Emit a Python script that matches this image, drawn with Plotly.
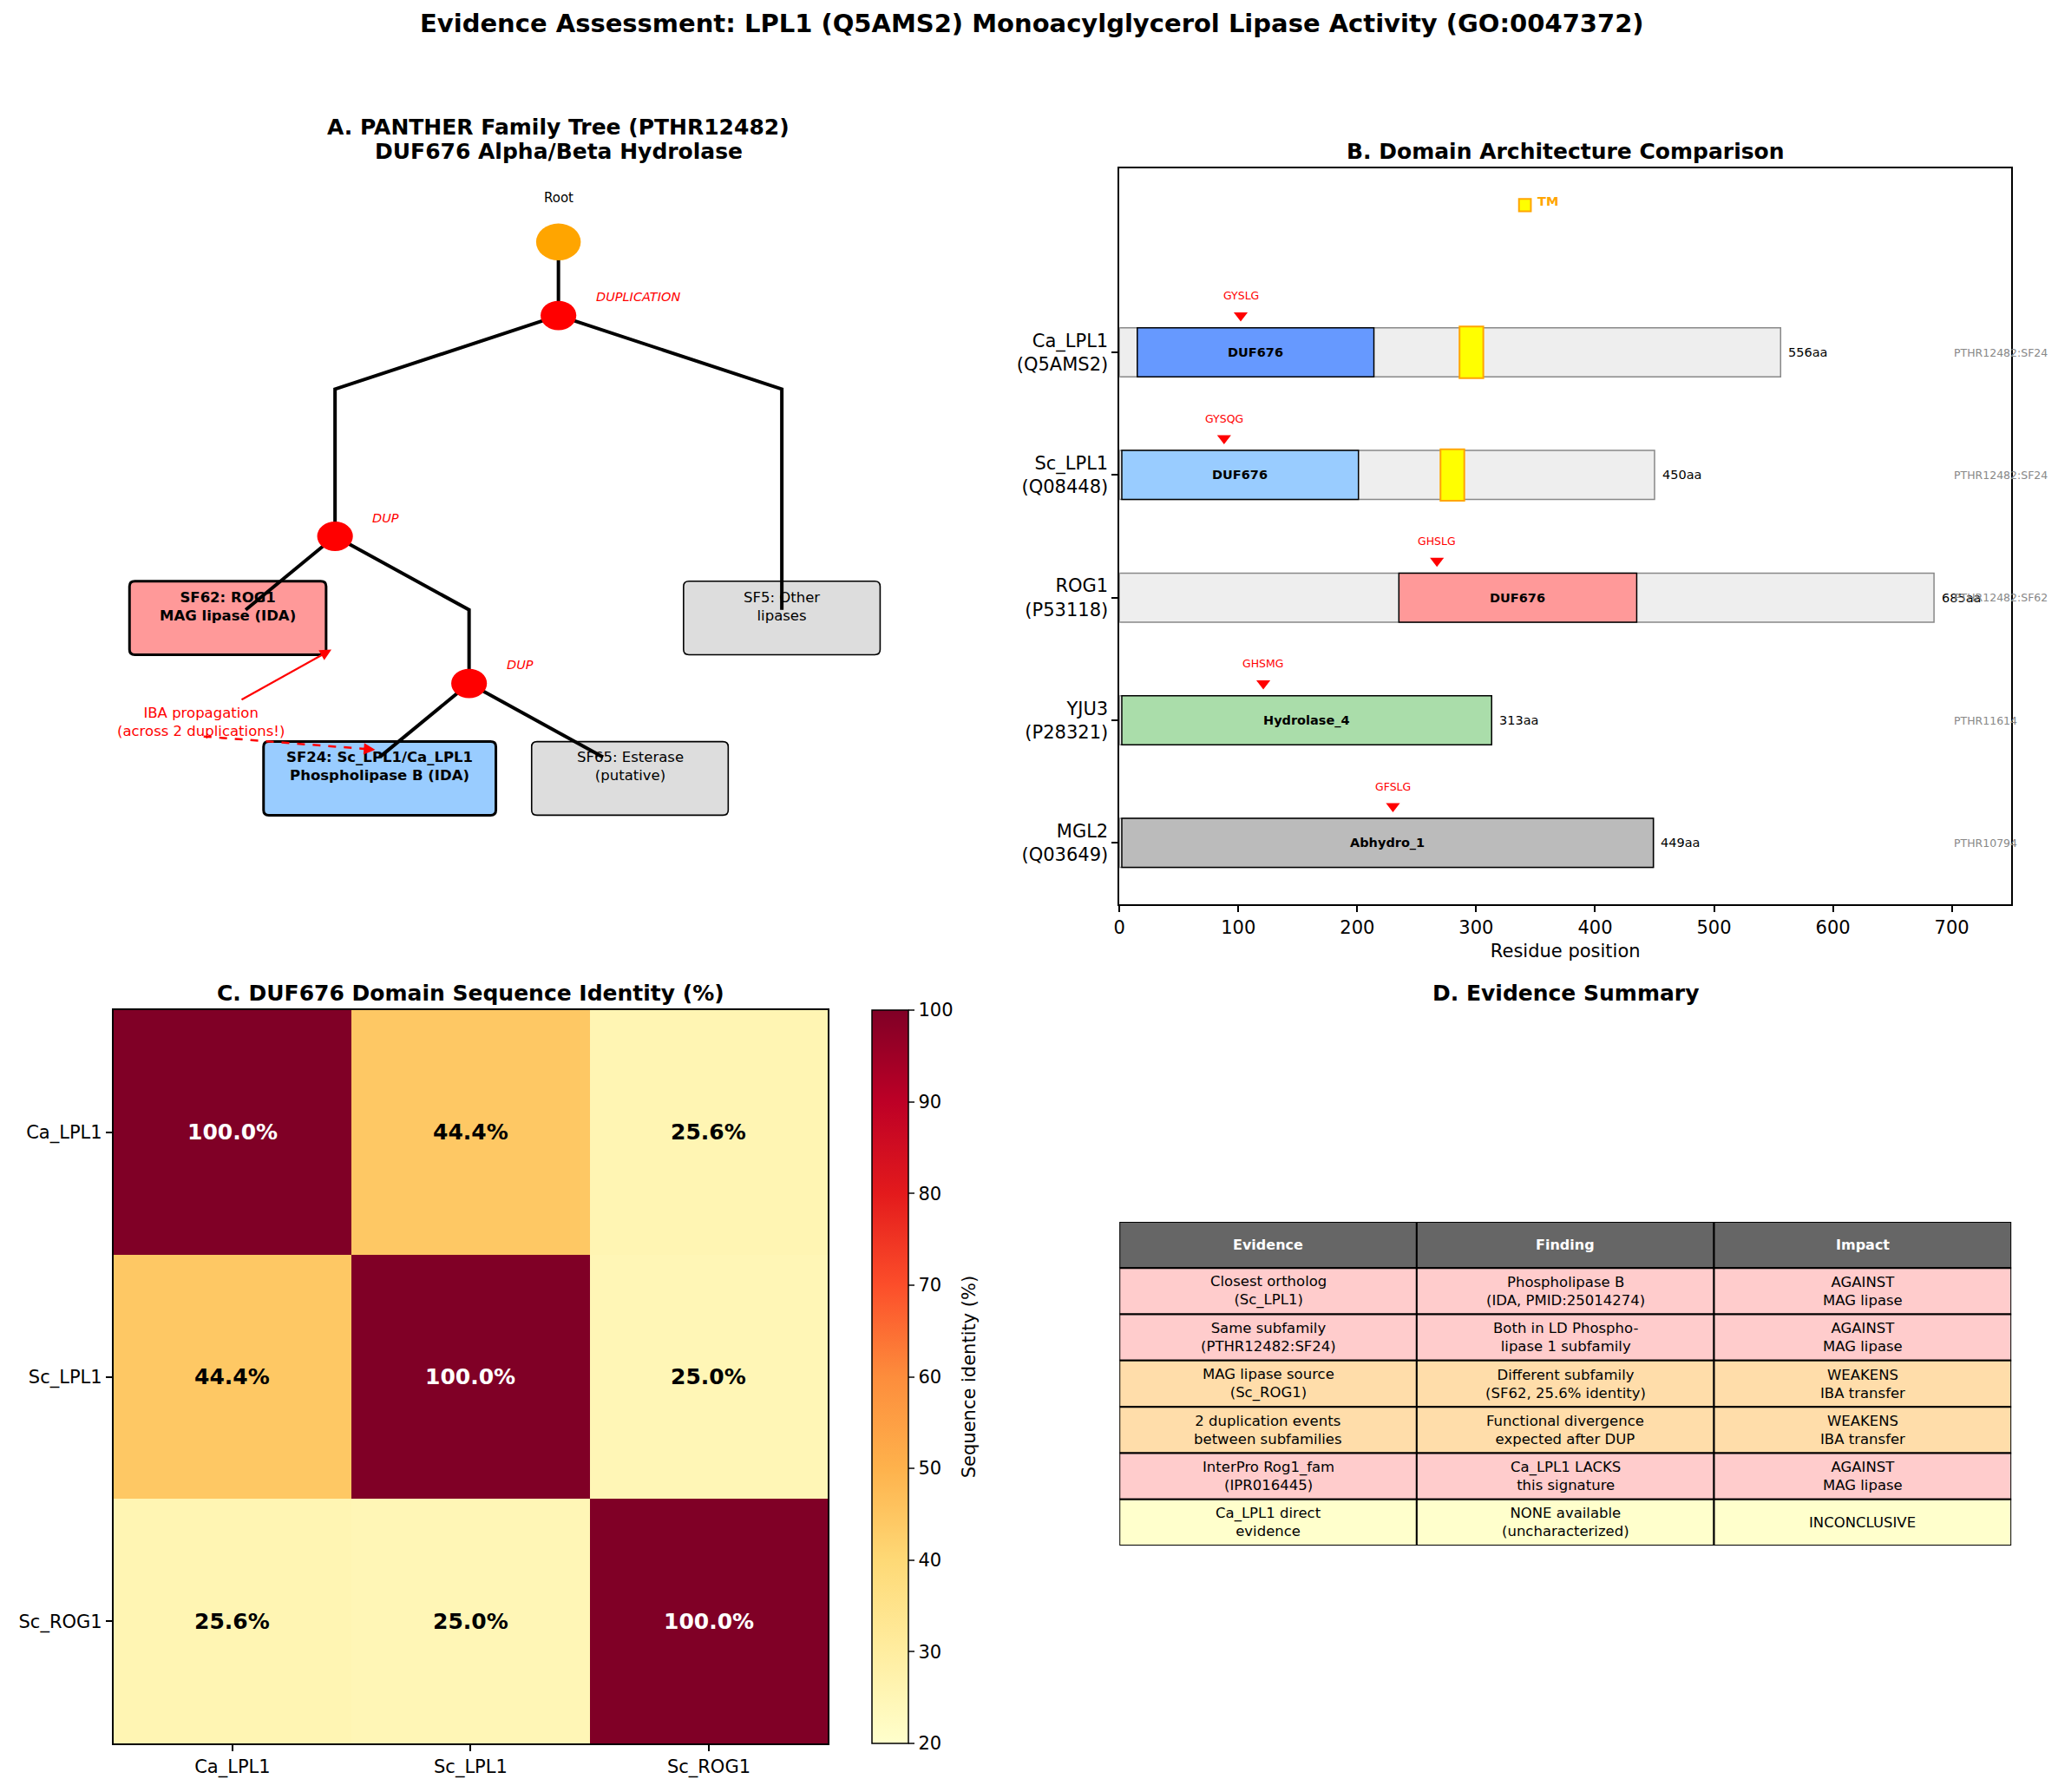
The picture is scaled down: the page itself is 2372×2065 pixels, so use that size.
import plotly.graph_objects as go

W, H = 2372, 2065
FONT = "DejaVu Sans"
OFF = 8  # page body margin of the html page, in px

# ---------------- Panel A: PANTHER tree ----------------
node_x = [5.0, 5.0, 2.5, 4.0]
node_y = [9.0, 8.0, 5.0, 3.0]
node_kind = ["root", "dup", "dup", "dup"]
node_label = ["Root", "DUPLICATION", "DUP", "DUP"]
branch_x = [[5, 5], [5, 2.5, 2.5], [5, 7.5, 7.5], [2.5, 1.5], [2.5, 4, 4], [4, 3], [4, 5.5]]
branch_y = [[9, 8], [8, 7, 5], [8, 7, 4], [5, 4], [5, 4, 3], [3, 2], [3, 2]]
leaf_text = ["<b>SF62: ROG1<br>MAG lipase (IDA)</b>", "SF5: Other<br>lipases",
             "<b>SF24: Sc_LPL1/Ca_LPL1<br>Phospholipase B (IDA)</b>", "SF65: Esterase<br>(putative)"]
leaf_x = [1.3, 7.5, 3.0, 5.8]
leaf_y = [4.05, 4.05, 1.87, 1.87]
leaf_halfw = [1.1, 1.1, 1.3, 1.1]
leaf_color = ["#FF9999", "#DDDDDD", "#99CCFF", "#DDDDDD"]
leaf_bold = [True, False, True, False]

# ---------------- Panel B: domains ----------------
prot_names = ["Ca_LPL1", "Sc_LPL1", "ROG1", "YJU3", "MGL2"]
prot_ids = ["Q5AMS2", "Q08448", "P53118", "P28321", "Q03649"]
prot_len = [556, 450, 685, 313, 449]
dom_name = ["DUF676", "DUF676", "DUF676", "Hydrolase_4", "Abhydro_1"]
dom_start = [15, 2, 235, 2, 2]
dom_end = [214, 201, 435, 313, 449]
dom_color = ["#6699FF", "#99CCFF", "#FF9999", "#AADDAA", "#BBBBBB"]
tm_prot = ["Ca_LPL1", "Sc_LPL1"]
tm_start = [286, 270]
tm_end = [306, 290]
motif_seq = ["GYSLG", "GYSQG", "GHSLG", "GHSMG", "GFSLG"]
motif_pos = [102, 88, 267, 121, 230]
panther_id = ["PTHR12482:SF24", "PTHR12482:SF24", "PTHR12482:SF62", "PTHR11614", "PTHR10794"]

# ---------------- Panel C: identity matrix ----------------
id_labels = ["Ca_LPL1", "Sc_LPL1", "Sc_ROG1"]
id_matrix = [[100.0, 44.4, 25.6],
             [44.4, 100.0, 25.0],
             [25.6, 25.0, 100.0]]

# ---------------- Panel D: evidence table ----------------
tbl_header = ["Evidence", "Finding", "Impact"]
tbl_evidence = ["Closest ortholog<br>(Sc_LPL1)", "Same subfamily<br>(PTHR12482:SF24)",
                "MAG lipase source<br>(Sc_ROG1)", "2 duplication events<br>between subfamilies",
                "InterPro Rog1_fam<br>(IPR016445)", "Ca_LPL1 direct<br>evidence"]
tbl_finding = ["Phospholipase B<br>(IDA, PMID:25014274)", "Both in LD Phospho-<br>lipase 1 subfamily",
               "Different subfamily<br>(SF62, 25.6% identity)", "Functional divergence<br>expected after DUP",
               "Ca_LPL1 LACKS<br>this signature", "NONE available<br>(uncharacterized)"]
tbl_impact = ["AGAINST<br>MAG lipase", "AGAINST<br>MAG lipase", "WEAKENS<br>IBA transfer",
              "WEAKENS<br>IBA transfer", "AGAINST<br>MAG lipase", "INCONCLUSIVE"]
tbl_row_color = ["#FFCCCC", "#FFCCCC", "#FFDDAA", "#FFDDAA", "#FFCCCC", "#FFFFCC"]

# ---------------- layout helpers ----------------
def fx(px):
    return (px - OFF) / W

def fy(py):
    return 1 - (py - OFF) / H

A_dom_x = [fx(122), fx(1155)]
B_dom_x = [fx(1287), fx(2318)]
TOP_dom_y = [fy(1042), fy(194)]
C_dom_x = [fx(124), fx(950)]
C_dom_y = [fy(2009), fy(1164)]
D_dom_y = [fy(1781), fy(1408)]

fig = go.Figure()
shapes = []
annots = []

# ---- Panel A ----
for bx, by in zip(branch_x, branch_y):
    fig.add_trace(go.Scatter(x=bx, y=by, mode="lines", line=dict(color="black", width=4),
                             xaxis="x", yaxis="y", showlegend=False, hoverinfo="skip"))

def rpath(x0, y0, x1, y1, rx=0.06, ry=0.07):
    return (f"M {x0+rx},{y0} L {x1-rx},{y0} Q {x1},{y0} {x1},{y0+ry} L {x1},{y1-ry} "
            f"Q {x1},{y1} {x1-rx},{y1} L {x0+rx},{y1} Q {x0},{y1} {x0},{y1-ry} "
            f"L {x0},{y0+ry} Q {x0},{y0} {x0+rx},{y0} Z")

for t, lx, ly, hw, col, b in zip(leaf_text, leaf_x, leaf_y, leaf_halfw, leaf_color, leaf_bold):
    y0 = ly - 0.66
    y1 = ly + 0.34
    shapes.append(dict(type="path", path=rpath(lx - hw, y0, lx + hw, y1), xref="x", yref="y",
                       fillcolor=col, line=dict(color="black", width=3 if b else 1.6), layer="below"))
    annots.append(dict(x=lx, y=ly, xref="x", yref="y", text=t, showarrow=False,
                       font=dict(size=16.5, color="black", family=FONT)))

for nx, ny, k, lab in zip(node_x, node_y, node_kind, node_label):
    r = 0.25 if k == "root" else 0.2
    col = "#FFA500" if k == "root" else "#FF0000"
    shapes.append(dict(type="circle", xref="x", yref="y", x0=nx - r, x1=nx + r, y0=ny - r, y1=ny + r,
                       fillcolor=col, line=dict(width=0), layer="above"))
    if k == "root":
        annots.append(dict(x=nx, y=ny + 0.6, xref="x", yref="y", text=lab, showarrow=False,
                           font=dict(size=15, color="black", family=FONT)))
    else:
        annots.append(dict(x=nx + 0.4, y=ny + 0.25, xref="x", yref="y", text=f"<i>{lab}</i>",
                           showarrow=False, xanchor="left",
                           font=dict(size=14.5, color="#FF0000", family=FONT)))

annots.append(dict(x=1.0, y=2.48, xref="x", yref="y", text="IBA propagation<br>(across 2 duplications!)",
                   showarrow=False, font=dict(size=16.5, color="#FF0000", family=FONT)))
annots.append(dict(x=2.46, y=3.46, ax=1.44, ay=2.77, xref="x", yref="y", axref="x", ayref="y",
                   text="", showarrow=True, arrowhead=2, arrowsize=1.2, arrowwidth=2.2,
                   arrowcolor="#FF0000"))
fig.add_trace(go.Scatter(x=[1.03, 2.88], y=[2.28, 2.107], mode="lines",
                         line=dict(color="#FF0000", width=2.5, dash="dash"),
                         xaxis="x", yaxis="y", showlegend=False, hoverinfo="skip"))
annots.append(dict(x=2.95, y=2.10, ax=2.80, ay=2.114, xref="x", yref="y", axref="x", ayref="y",
                   text="", showarrow=True, arrowhead=2, arrowsize=1.2, arrowwidth=2.2,
                   arrowcolor="#FF0000"))

# ---- Panel B ----
ypos = [len(prot_names) - 1 - i for i in range(len(prot_names))]
ticktext = [f"{n}<br>({p})" for n, p in zip(prot_names, prot_ids)]

fig.add_trace(go.Bar(y=ypos, x=prot_len, base=[0] * len(prot_len), orientation="h", width=0.4,
                     marker=dict(color="#EEEEEE", line=dict(color="#888888", width=1.5)),
                     xaxis="x2", yaxis="y2", showlegend=False, hoverinfo="skip"))
fig.add_trace(go.Bar(y=ypos, x=[e - s for s, e in zip(dom_start, dom_end)], base=dom_start,
                     orientation="h", width=0.4,
                     marker=dict(color=dom_color, line=dict(color="black", width=1.5)),
                     xaxis="x2", yaxis="y2", showlegend=False, hoverinfo="skip"))
tm_y = [ypos[prot_names.index(p)] for p in tm_prot]
fig.add_trace(go.Bar(y=tm_y, x=[e - s for s, e in zip(tm_start, tm_end)], base=tm_start,
                     orientation="h", width=0.42,
                     marker=dict(color="#FFFF00", line=dict(color="#FFA500", width=2)),
                     xaxis="x2", yaxis="y2", showlegend=False, hoverinfo="skip"))
fig.add_trace(go.Scatter(x=motif_pos, y=[y + 0.3 for y in ypos], mode="markers",
                         marker=dict(symbol="triangle-down", size=14, color="#FF0000"),
                         xaxis="x2", yaxis="y2", showlegend=False, hoverinfo="skip"))

for y, n, s, e, L, m, mp, pid in zip(ypos, dom_name, dom_start, dom_end, prot_len,
                                     motif_seq, motif_pos, panther_id):
    annots.append(dict(x=(s + e) / 2, y=y, xref="x2", yref="y2", text=f"<b>{n}</b>", showarrow=False,
                       font=dict(size=14.5, color="black", family=FONT)))
    annots.append(dict(x=L + 5, y=y, xref="x2", yref="y2", text=f"{L}aa", showarrow=False,
                       xanchor="left", font=dict(size=14.5, color="black", family=FONT)))
    annots.append(dict(x=mp, y=y + 0.46, xref="x2", yref="y2", text=m, showarrow=False,
                       font=dict(size=12.5, color="#FF0000", family=FONT)))
    annots.append(dict(x=700, y=y, xref="x2", yref="y2", text=pid, showarrow=False,
                       xanchor="left", font=dict(size=12.5, color="#888888", family=FONT)))

# TM legend
shapes.append(dict(type="rect", xref="x2", yref="y2", x0=336, x1=346, y0=5.15, y1=5.25,
                   fillcolor="#FFFF00", line=dict(color="#FFA500", width=2)))
annots.append(dict(x=350, y=5.23, xref="x2", yref="y2", text="<b>TM</b>", showarrow=False,
                   xanchor="left", font=dict(size=14.5, color="#FFA500", family=FONT)))

# ---- Panel C ----
fig.add_trace(go.Heatmap(
    z=id_matrix, x=id_labels, y=id_labels, zmin=20, zmax=100,
    colorscale=[[0.0, "#ffffcc"], [0.125, "#ffeda0"], [0.25, "#fed976"], [0.375, "#feb24c"],
                [0.5, "#fd8d3c"], [0.625, "#fc4e2a"], [0.75, "#e31a1c"], [0.875, "#bd0026"],
                [1.0, "#800026"]],
    xaxis="x3", yaxis="y3", hoverinfo="skip",
    colorbar=dict(x=fx(1001), xanchor="left", xpad=0, ypad=0,
                  y=(C_dom_y[0] + C_dom_y[1]) / 2, yanchor="middle",
                  len=C_dom_y[1] - C_dom_y[0], lenmode="fraction", thickness=42,
                  outlinewidth=1.5, outlinecolor="black",
                  tickvals=[20, 30, 40, 50, 60, 70, 80, 90, 100], ticks="outside", ticklen=7,
                  tickwidth=1.5, tickfont=dict(size=21, family=FONT, color="black")),
))
for i, row in enumerate(id_matrix):
    for j, v in enumerate(row):
        annots.append(dict(x=id_labels[j], y=id_labels[i], xref="x3", yref="y3",
                           text=f"<b>{v:.1f}%</b>", showarrow=False,
                           font=dict(size=25, family=FONT, color="white" if v > 70 else "black")))
annots.append(dict(x=fx(1113), y=(C_dom_y[0] + C_dom_y[1]) / 2, xref="paper", yref="paper",
                   xanchor="center", yanchor="middle",
                   text="Sequence identity (%)", textangle=-90, showarrow=False,
                   font=dict(size=21, family=FONT, color="black")))

# ---- Panel D ----
nrows = len(tbl_evidence) + 1
cols = [tbl_evidence, tbl_finding, tbl_impact]
for c, h in enumerate(tbl_header):
    shapes.append(dict(type="rect", xref="x4", yref="y4", x0=c, x1=c + 1, y0=nrows - 1, y1=nrows,
                       fillcolor="#666666", line=dict(color="black", width=2)))
    annots.append(dict(x=c + 0.5, y=nrows - 0.5, xref="x4", yref="y4", text=f"<b>{h}</b>",
                       showarrow=False, font=dict(size=16, color="white", family=FONT)))
for r in range(len(tbl_evidence)):
    yt = nrows - 1 - r
    for c in range(3):
        shapes.append(dict(type="rect", xref="x4", yref="y4", x0=c, x1=c + 1, y0=yt - 1, y1=yt,
                           fillcolor=tbl_row_color[r], line=dict(color="black", width=2)))
        annots.append(dict(x=c + 0.5, y=yt - 0.5, xref="x4", yref="y4", text=cols[c][r],
                           showarrow=False, font=dict(size=16.5, color="black", family=FONT)))

# ---- titles ----
def title(x, y, text, size=25):
    annots.append(dict(x=x, y=y, xref="paper", yref="paper", text=text, showarrow=False,
                       xanchor="center", yanchor="middle",
                       font=dict(size=size, family=FONT, color="black")))

title(fx(1186), fy(27), "<b>Evidence Assessment: LPL1 (Q5AMS2) Monoacylglycerol Lipase Activity (GO:0047372)</b>", 29)
title((A_dom_x[0] + A_dom_x[1]) / 2, fy(147), "<b>A. PANTHER Family Tree (PTHR12482)</b>")
title((A_dom_x[0] + A_dom_x[1]) / 2, fy(174), "<b>DUF676 Alpha/Beta Hydrolase</b>")
title((B_dom_x[0] + B_dom_x[1]) / 2, fy(174), "<b>B. Domain Architecture Comparison</b>")
title((C_dom_x[0] + C_dom_x[1]) / 2, fy(1144), "<b>C. DUF676 Domain Sequence Identity (%)</b>")
title((B_dom_x[0] + B_dom_x[1]) / 2, fy(1144), "<b>D. Evidence Summary</b>")

axis_common = dict(showline=True, mirror=True, linecolor="black", linewidth=1.6, ticks="outside",
                   ticklen=7, tickwidth=1.6, tickcolor="black", showgrid=False, zeroline=False,
                   tickfont=dict(size=21, family=FONT, color="black"))

fig.update_layout(
    width=W, height=H, margin=dict(l=0, r=0, t=0, b=0),
    paper_bgcolor="white", plot_bgcolor="white", barmode="overlay", showlegend=False,
    font=dict(family=FONT, color="black"),
    xaxis=dict(domain=A_dom_x, range=[0, 10], visible=False, anchor="y"),
    yaxis=dict(domain=TOP_dom_y, range=[0, 10], visible=False, anchor="x"),
    xaxis2=dict(domain=B_dom_x, range=[0, 750], anchor="y2", tickvals=[0, 100, 200, 300, 400, 500, 600, 700],
                title=dict(text="Residue position", font=dict(size=21, family=FONT), standoff=8),
                **axis_common),
    yaxis2=dict(domain=TOP_dom_y, range=[-0.5, 5.5], anchor="x2", tickvals=ypos, ticktext=ticktext,
                **axis_common),
    xaxis3=dict(domain=C_dom_x, anchor="y3", **axis_common),
    yaxis3=dict(domain=C_dom_y, anchor="x3", autorange="reversed", **axis_common),
    xaxis4=dict(domain=B_dom_x, range=[0, 3], visible=False, anchor="y4"),
    yaxis4=dict(domain=D_dom_y, range=[0, nrows], visible=False, anchor="x4"),
    shapes=shapes, annotations=annots,
)

fig.write_html("out.html")
